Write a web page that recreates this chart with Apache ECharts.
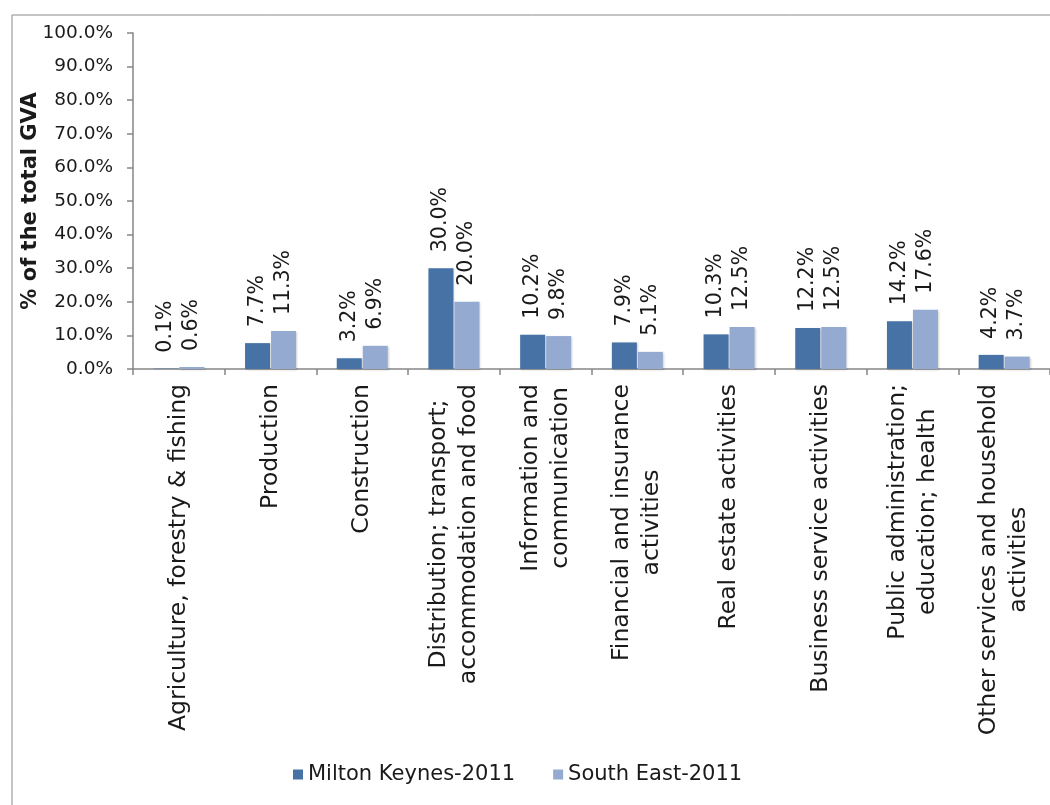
<!DOCTYPE html>
<html>
<head>
<meta charset="utf-8">
<title>Share of total GVA by industry, 2011</title>
<script src="https://cdn.jsdelivr.net/npm/echarts@6/dist/echarts.min.js"></script>
<style>
  html, body { margin: 0; padding: 0; background: #fff; }
  #chart { width: 1050px; height: 805px; }
</style>
</head>
<body>
<div id="chart"></div>
<script>
// Industry groups (line breaks are drawn as wrapped axis labels)
const categories = [
  'Agriculture, forestry & fishing',
  'Production',
  'Construction',
  'Distribution; transport;\naccommodation and food',
  'Information and\ncommunication',
  'Financial and insurance\nactivities',
  'Real estate activities',
  'Business service activities',
  'Public administration;\neducation; health',
  'Other services and household\nactivities'
];

// Share of total GVA (%)
const miltonKeynes2011 = [0.1, 7.7, 3.2, 30.0, 10.2, 7.9, 10.3, 12.2, 14.2, 4.2];
const southEast2011   = [0.6, 11.3, 6.9, 20.0, 9.8, 5.1, 12.5, 12.5, 17.6, 3.7];

const seriesNames = ['Milton Keynes-2011', 'South East-2011'];
const yTicks = { min: 0, max: 100, interval: 10 };

const FONT = 'DejaVu Sans';
const TEXT = '#1a1a1a';
const AXIS = '#868686';

const chart = echarts.init(document.getElementById('chart'), null, { renderer: 'canvas' });

const pctLabel = {
  show: true,
  position: 'top',
  rotate: 90,
  align: 'left',
  verticalAlign: 'middle',
  distance: 16,
  fontFamily: FONT,
  fontSize: 20.5,
  color: TEXT,
  formatter: p => p.value.toFixed(1) + '%'
};

const barShadow = {
  shadowBlur: 2,
  shadowColor: 'rgba(0,0,0,0.18)',
  shadowOffsetX: 1,
  shadowOffsetY: 1
};

chart.setOption({
  animation: false,
  backgroundColor: '#ffffff',
  graphic: [{
    type: 'rect',
    left: 9.5, top: 12.5,
    shape: { width: 1100, height: 900 },
    style: { fill: 'none', stroke: '#8a8a8a', lineWidth: 1 },
    silent: true,
    z: -10
  }],
  grid: { left: 133, right: 0, top: 33, bottom: 436, containLabel: false },
  legend: {
    data: seriesNames,
    left: 288,
    top: 759,
    icon: 'rect',
    itemWidth: 10,
    itemHeight: 10,
    itemGap: 38,
    textStyle: { fontFamily: FONT, fontSize: 21, color: TEXT }
  },
  xAxis: {
    type: 'category',
    data: categories,
    axisLine: { show: true, lineStyle: { color: AXIS, width: 1.5 } },
    axisTick: { show: true, length: 6, lineStyle: { color: AXIS, width: 1.5 } },
    axisLabel: {
      interval: 0,
      rotate: 90,
      margin: 15,
      fontFamily: FONT,
      fontSize: 23.5,
      lineHeight: 30,
      color: TEXT,
      formatter: v => v.split('\n').map(line => '{c|' + line + '}').join('\n'),
      rich: {
        c: { align: 'center', fontFamily: FONT, fontSize: 23.5, lineHeight: 30, color: TEXT }
      }
    },
    splitLine: { show: false }
  },
  yAxis: {
    type: 'value',
    min: yTicks.min,
    max: yTicks.max,
    interval: yTicks.interval,
    name: '% of the total GVA',
    nameLocation: 'middle',
    nameGap: 92,
    nameMoveOverlap: false,
    nameTextStyle: { fontFamily: FONT, fontSize: 21, fontWeight: 'bold', color: TEXT },
    axisLine: { show: true, lineStyle: { color: AXIS, width: 1.5 } },
    axisTick: { show: true, length: 6, lineStyle: { color: AXIS, width: 1.5 } },
    axisLabel: {
      margin: 20,
      fontFamily: FONT,
      fontSize: 18.5,
      color: TEXT,
      formatter: v => v.toFixed(1) + '%'
    },
    splitLine: { show: false }
  },
  series: [
    {
      name: seriesNames[0],
      type: 'bar',
      data: miltonKeynes2011,
      barWidth: 25,
      barGap: '4%',
      itemStyle: Object.assign({ color: '#4672A6' }, barShadow),
      label: pctLabel
    },
    {
      name: seriesNames[1],
      type: 'bar',
      data: southEast2011,
      barWidth: 25,
      barGap: '4%',
      itemStyle: Object.assign({ color: '#94AAD0' }, barShadow),
      label: pctLabel
    }
  ]
});
</script>
</body>
</html>
